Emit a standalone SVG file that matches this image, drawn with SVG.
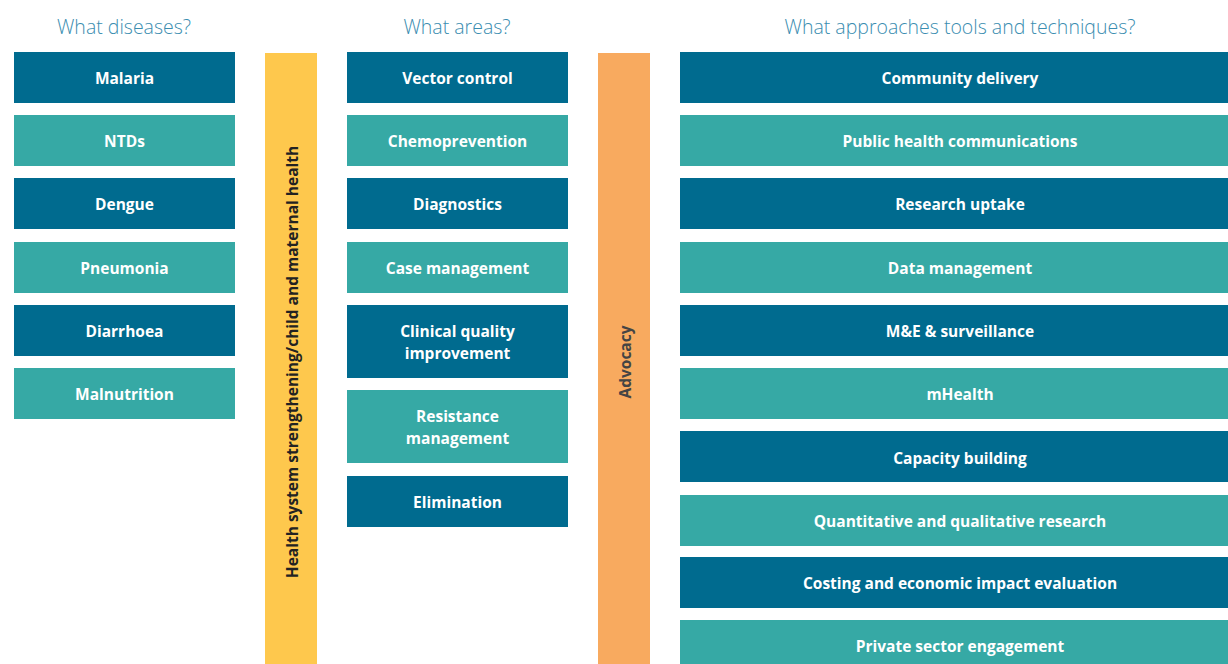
<svg xmlns="http://www.w3.org/2000/svg" width="1228" height="664" viewBox="0 0 1228 664">
<style>
.dk{fill:#006b8f}
.tl{fill:#36a9a5}
.lb{font-family:"Open Sans","Liberation Sans",sans-serif;font-weight:bold;font-size:15.5px;fill:#ffffff;text-anchor:middle;dominant-baseline:central}
.hd{font-family:"Open Sans","Liberation Sans",sans-serif;font-weight:300;font-size:19.5px;fill:#3a8db0;text-anchor:middle}
.vt{font-family:"Open Sans","Liberation Sans",sans-serif;font-weight:bold;font-size:15.5px;text-anchor:middle;dominant-baseline:central}
</style>
<rect width="1228" height="664" fill="#ffffff"/>
<g id="headings">
<text class="hd" x="124" y="34">What diseases?</text>
<text class="hd" x="457" y="34">What areas?</text>
<text class="hd" x="960" y="34">What approaches tools and techniques?</text>
</g>
<g id="connectors"></g>
<g id="diseases">
<g id="malaria"><rect class="dk" x="14" y="52" width="221" height="51"/><text class="lb" x="124.5" y="78">Malaria</text></g>
<g id="ntds"><rect class="tl" x="14" y="115" width="221" height="51"/><text class="lb" x="124.5" y="141">NTDs</text></g>
<g id="dengue"><rect class="dk" x="14" y="178" width="221" height="51"/><text class="lb" x="124.5" y="204">Dengue</text></g>
<g id="pneumonia"><rect class="tl" x="14" y="242" width="221" height="51"/><text class="lb" x="124.5" y="268">Pneumonia</text></g>
<g id="diarrhoea"><rect class="dk" x="14" y="305" width="221" height="51"/><text class="lb" x="124.5" y="331">Diarrhoea</text></g>
<g id="malnutrition"><rect class="tl" x="14" y="368" width="221" height="51"/><text class="lb" x="124.5" y="394">Malnutrition</text></g>
</g>
<g id="health-system">
<rect x="265" y="53" width="52" height="611" fill="#fec84d"/>
<text class="vt" fill="#222222" transform="translate(292,362) rotate(-90)">Health system strengthening/child and maternal health</text>
</g>
<g id="areas">
<g id="vector-control"><rect class="dk" x="347" y="52" width="221" height="51"/><text class="lb" x="457.5" y="78">Vector control</text></g>
<g id="chemoprevention"><rect class="tl" x="347" y="115" width="221" height="51"/><text class="lb" x="457.5" y="141">Chemoprevention</text></g>
<g id="diagnostics"><rect class="dk" x="347" y="178" width="221" height="51"/><text class="lb" x="457.5" y="204">Diagnostics</text></g>
<g id="case-management"><rect class="tl" x="347" y="242" width="221" height="51"/><text class="lb" x="457.5" y="268">Case management</text></g>
<g id="clinical-quality"><rect class="dk" x="347" y="305" width="221" height="73"/><text class="lb" x="457.5" y="330.5">Clinical quality</text><text class="lb" x="457.5" y="352.5">improvement</text></g>
<g id="resistance"><rect class="tl" x="347" y="390" width="221" height="73"/><text class="lb" x="457.5" y="415.5">Resistance</text><text class="lb" x="457.5" y="437.5">management</text></g>
<g id="elimination"><rect class="dk" x="347" y="476" width="221" height="51"/><text class="lb" x="457.5" y="502">Elimination</text></g>
</g>
<g id="advocacy">
<rect x="598" y="53" width="52" height="611" fill="#f8aa5f"/>
<text class="vt" fill="#444444" transform="translate(625,362) rotate(-90)">Advocacy</text>
</g>
<g id="approaches">
<g id="community-delivery"><rect class="dk" x="680" y="52" width="548" height="51"/><text class="lb" x="960" y="78">Community delivery</text></g>
<g id="public-health"><rect class="tl" x="680" y="115" width="548" height="51"/><text class="lb" x="960" y="141">Public health communications</text></g>
<g id="research-uptake"><rect class="dk" x="680" y="178" width="548" height="51"/><text class="lb" x="960" y="204">Research uptake</text></g>
<g id="data-management"><rect class="tl" x="680" y="242" width="548" height="51"/><text class="lb" x="960" y="268">Data management</text></g>
<g id="me-surveillance"><rect class="dk" x="680" y="305" width="548" height="51"/><text class="lb" x="960" y="331">M&amp;E &amp; surveillance</text></g>
<g id="mhealth"><rect class="tl" x="680" y="368" width="548" height="51"/><text class="lb" x="960" y="394">mHealth</text></g>
<g id="capacity-building"><rect class="dk" x="680" y="431" width="548" height="51"/><text class="lb" x="960" y="457.5">Capacity building</text></g>
<g id="research"><rect class="tl" x="680" y="495" width="548" height="51"/><text class="lb" x="960" y="521">Quantitative and qualitative research</text></g>
<g id="costing"><rect class="dk" x="680" y="557" width="548" height="51"/><text class="lb" x="960" y="583">Costing and economic impact evaluation</text></g>
<g id="private-sector"><rect class="tl" x="680" y="620" width="548" height="51"/><text class="lb" x="960" y="646">Private sector engagement</text></g>
</g>
</svg>
